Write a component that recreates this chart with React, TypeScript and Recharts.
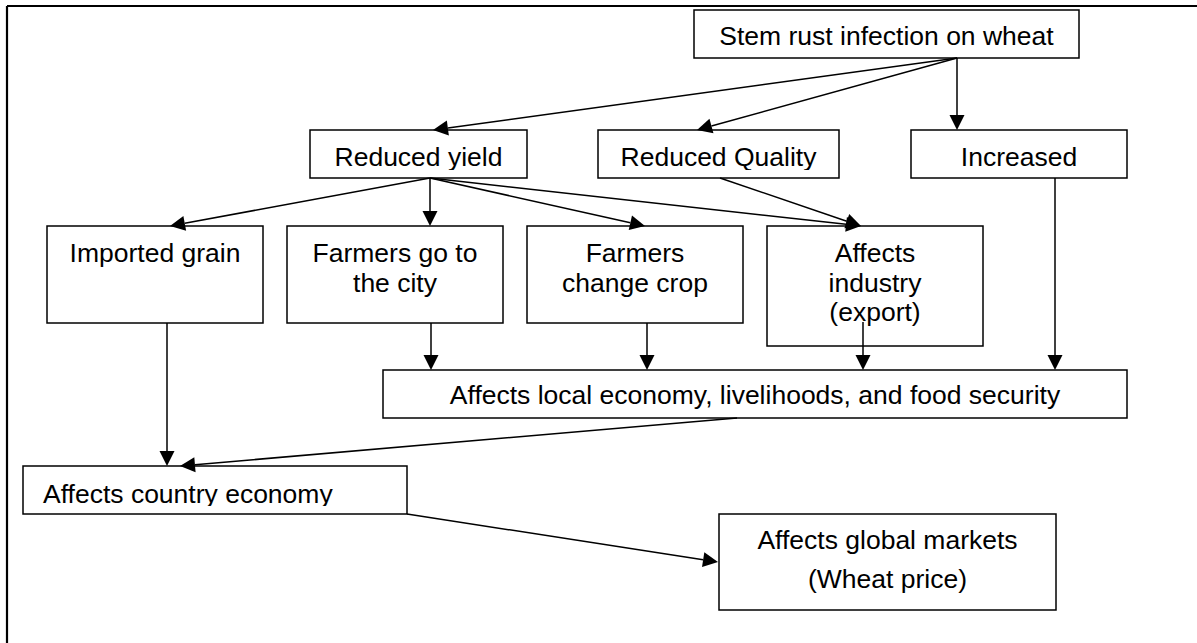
import React from 'react';
import { ComposedChart, XAxis, YAxis, Scatter, ReferenceArea, ReferenceLine } from 'recharts';

const W = 1197;
const H = 643;
const FONT = '"Liberation Sans", Arial, sans-serif';

type FlowNode = {
  label: string[];
  x1: number;
  x2: number;
  y1: number;
  y2: number;
  align?: 'middle' | 'start';
  first?: number;
  gap?: number;
};

// boxes of the flow chart, in page units
const nodes: FlowNode[] = [
  { label: ['Stem rust infection on wheat'], x1: 694, x2: 1079, y1: 10, y2: 58, first: 35 },
  { label: ['Reduced yield'], x1: 310, x2: 527, y1: 130, y2: 178 },
  { label: ['Reduced Quality'], x1: 598, x2: 839, y1: 130, y2: 178 },
  { label: ['Increased'], x1: 911, x2: 1127, y1: 130, y2: 178 },
  { label: ['Imported grain'], x1: 47, x2: 263, y1: 226, y2: 323 },
  { label: ['Farmers go to', 'the city'], x1: 287, x2: 503, y1: 226, y2: 323 },
  { label: ['Farmers', 'change crop'], x1: 527, x2: 743, y1: 226, y2: 323 },
  { label: ['Affects', 'industry', '(export)'], x1: 767, x2: 983, y1: 226, y2: 346 },
  { label: ['Affects local economy, livelihoods, and food security'], x1: 383, x2: 1127, y1: 370, y2: 418, first: 34 },
  { label: ['Affects country economy'], x1: 23, x2: 407, y1: 466, y2: 514, align: 'start', first: 37 },
  { label: ['Affects global markets', '(Wheat price)'], x1: 719, x2: 1056, y1: 514, y2: 610, first: 35, gap: 39 },
];

// arrows: [fromX, fromY, toX, toY]
const arrows: number[][] = [
  [957, 58, 433, 130],
  [957, 58, 697, 130],
  [957, 58, 957, 130],
  [430, 178, 170, 226],
  [430, 178, 430, 226],
  [430, 178, 645, 226],
  [430, 178, 861, 226],
  [720, 178, 861, 226],
  [431, 323, 431, 370],
  [647, 323, 647, 370],
  [863, 322, 863, 370],
  [1055, 178, 1055, 370],
  [167, 323, 167, 466],
  [737, 418, 180, 466],
  [407, 514, 718, 562],
];

// outer frame (runs off the right and bottom of the page)
const frame: number[][] = [
  [7, 6, 1197, 6],
  [7, 6, 7, 643],
];

const anchors = nodes.map((n) => ({ x: (n.x1 + n.x2) / 2, y: (n.y1 + n.y2) / 2 }));

const arrowShape = (p: any) => {
  const { x1, y1, x2, y2 } = p;
  const dx = x2 - x1;
  const dy = y2 - y1;
  const len = Math.hypot(dx, dy);
  const ux = dx / len;
  const uy = dy / len;
  const bx = x2 - ux * 15;
  const by = y2 - uy * 15;
  const px = -uy * 7.5;
  const py = ux * 7.5;
  return (
    <g>
      <line x1={x1} y1={y1} x2={bx} y2={by} stroke="#000" strokeWidth={1.5} />
      <polygon points={`${x2},${y2} ${bx + px},${by + py} ${bx - px},${by - py}`} fill="#000" />
    </g>
  );
};

const frameShape = (p: any) => (
  <line x1={p.x1} y1={p.y1} x2={p.x2} y2={p.y2} stroke="#000" strokeWidth={2.2} />
);

const makeBox = (n: FlowNode, i: number) => (p: any) => {
  const { x, y, width, height } = p;
  const id = `box-clip-${i}`;
  const first = n.first ?? 36;
  const gap = n.gap ?? 29.5;
  const tx = n.align === 'start' ? x + 20 : x + width / 2;
  return (
    <g>
      <defs>
        <clipPath id={id}>
          <rect x={x} y={y} width={width} height={height - 8} />
        </clipPath>
      </defs>
      <rect x={x} y={y} width={width} height={height} fill="#fff" stroke="#000" strokeWidth={1.5} />
      <text
        clipPath={`url(#${id})`}
        fontFamily={FONT}
        fontSize={26.5}
        fill="#000"
        textAnchor={n.align === 'start' ? 'start' : 'middle'}
      >
        {n.label.map((line, k) => (
          <tspan key={k} x={tx} y={y + first + k * gap}>
            {line}
          </tspan>
        ))}
      </text>
    </g>
  );
};

export default function App() {
  return (
    <div style={{ position: 'absolute', left: 0, top: 0, width: W, height: H, background: '#fff' }}>
      <ComposedChart width={W} height={H} margin={{ top: 0, right: 0, bottom: 0, left: 0 }}>
        <XAxis type="number" dataKey="x" domain={[0, W]} hide allowDataOverflow />
        <YAxis type="number" dataKey="y" domain={[0, H]} reversed hide allowDataOverflow />
        <Scatter data={anchors} isAnimationActive={false} shape={() => <g />} />
        {frame.map((f, i) => (
          <ReferenceLine
            key={`f${i}`}
            segment={[{ x: f[0], y: f[1] }, { x: f[2], y: f[3] }]}
            shape={frameShape}
          />
        ))}
        {nodes.map((n, i) => (
          <ReferenceArea
            key={`n${i}`}
            x1={n.x1}
            x2={n.x2}
            y1={n.y1}
            y2={n.y2}
            shape={makeBox(n, i)}
          />
        ))}
        {arrows.map((a, i) => (
          <ReferenceLine
            key={`a${i}`}
            segment={[{ x: a[0], y: a[1] }, { x: a[2], y: a[3] }]}
            shape={arrowShape}
          />
        ))}
      </ComposedChart>
    </div>
  );
}
